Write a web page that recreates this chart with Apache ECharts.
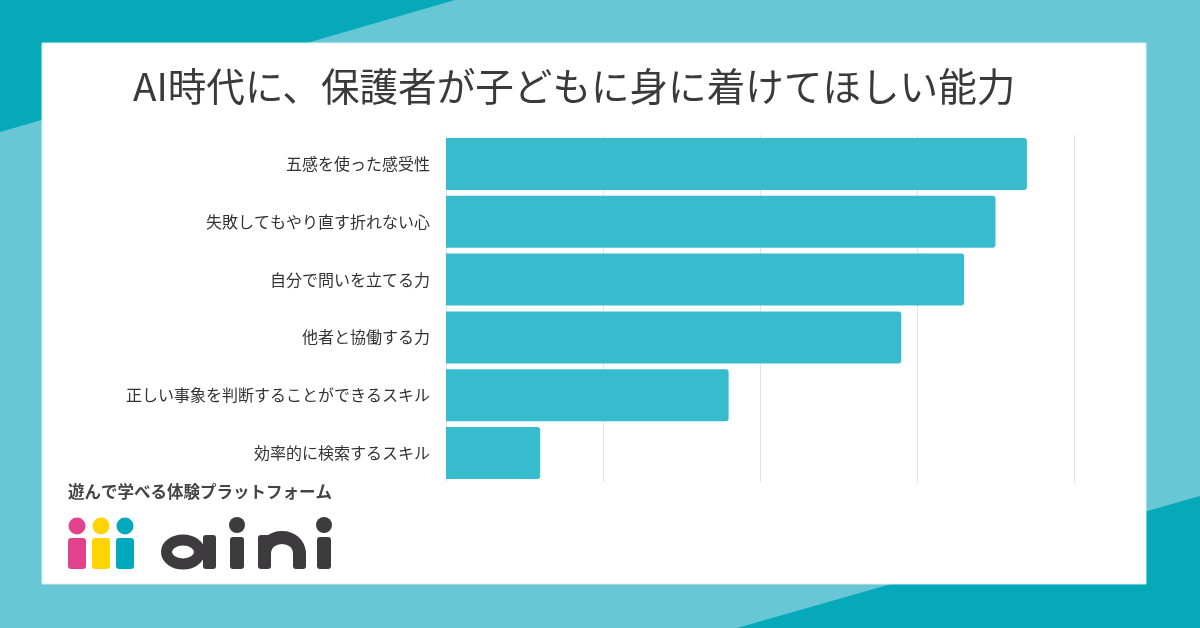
<!DOCTYPE html>
<html><head><meta charset="utf-8">
<script src="https://cdn.jsdelivr.net/npm/echarts@6/dist/echarts.min.js"></script>
<style>html,body{margin:0;padding:0;background:#67c7d4}#c{width:1200px;height:628px}</style>
</head><body><div id="c"></div>
<script>
const titleText = 'AI時代に、保護者が子どもに身に着けてほしい能力';
const categories = ['五感を使った感受性','失敗してもやり直す折れない心','自分で問いを立てる力','他者と協働する力','正しい事象を判断することができるスキル','効率的に検索するスキル'];
const values = [74, 70, 66, 58, 36, 12];
const axisMax = 80;
const axisStep = 20;
const tagline = '遊んで学べる体験プラットフォーム';

const DARK = '#05a9b9', LIGHT = '#67c7d4', INK = '#3d3b3d';
const chart = echarts.init(document.getElementById('c'));
chart.setOption({
  backgroundColor: LIGHT,
  animation: false,
  title: {
    text: titleText, left: 133, top: 67, padding: 0,
    textStyle: { fontFamily: 'Noto Sans CJK JP', fontSize: 38.6, fontWeight: 'normal', color: '#3a3a3a' }
  },
  grid: { left: 446, right: 126, top: 135, height: 347, containLabel: false },
  xAxis: {
    type: 'value', min: 0, max: axisMax, interval: axisStep,
    axisLabel: { show: false }, axisLine: { show: false }, axisTick: { show: false },
    splitLine: { lineStyle: { color: '#e2e2ec', width: 1 } }
  },
  yAxis: {
    type: 'category', data: categories, inverse: true,
    axisLine: { show: false }, axisTick: { show: false },
    axisLabel: { margin: 16, fontFamily: 'Noto Sans CJK JP', fontSize: 16, color: '#333' }
  },
  series: [{
    type: 'bar', data: values, barWidth: 52,
    itemStyle: { color: '#37bccd', borderRadius: [0, 3, 3, 0] }
  }],
  graphic: [
    { type: 'polygon', z: -100, shape: { points: [[0,0],[455,0],[0,132]] }, style: { fill: DARK } },
    { type: 'polygon', z: -100, shape: { points: [[737,628],[1200,496],[1200,628]] }, style: { fill: DARK } },
    { type: 'rect', z: -90, shape: { x: 42, y: 43, width: 1104, height: 541 }, style: { fill: '#ffffff', stroke: '#d8f0f3', lineWidth: 1 } },
    { type: 'text', z: 10, x: 68, y: 483, style: { text: tagline, fontFamily: 'Noto Sans CJK JP', fontSize: 16.5, fontWeight: 'bold', fill: '#444' } },
    // colored figures
    { type: 'circle', z: 10, shape: { cx: 77, cy: 526, r: 8.5 }, style: { fill: '#e2418b' } },
    { type: 'rect', z: 10, shape: { x: 68, y: 538, width: 18, height: 31, r: 3 }, style: { fill: '#e2418b' } },
    { type: 'circle', z: 10, shape: { cx: 101, cy: 526, r: 8.5 }, style: { fill: '#ffd400' } },
    { type: 'rect', z: 10, shape: { x: 92, y: 538, width: 18, height: 31, r: 3 }, style: { fill: '#ffd400' } },
    { type: 'circle', z: 10, shape: { cx: 125, cy: 526, r: 8.5 }, style: { fill: '#00a9bd' } },
    { type: 'rect', z: 10, shape: { x: 116, y: 538, width: 18, height: 31, r: 3 }, style: { fill: '#00a9bd' } },
    // "a"
    { type: 'ellipse', z: 10, shape: { cx: 183, cy: 552, rx: 16.5, ry: 12 }, style: { fill: 'none', stroke: INK, lineWidth: 11 } },
    { type: 'rect', z: 10, shape: { x: 203, y: 535, width: 13, height: 34, r: 3 }, style: { fill: INK } },
    // "i"
    { type: 'circle', z: 10, shape: { cx: 237, cy: 525, r: 8 }, style: { fill: INK } },
    { type: 'rect', z: 10, shape: { x: 230, y: 537, width: 14, height: 32, r: 3 }, style: { fill: INK } },
    // "n"
    { type: 'rect', z: 10, shape: { x: 258, y: 535, width: 13, height: 34, r: 3 }, style: { fill: INK } },
    { type: 'rect', z: 10, shape: { x: 293, y: 550, width: 13, height: 19, r: 3 }, style: { fill: INK } },
    { type: 'bezierCurve', z: 10, shape: { x1: 264.5, y1: 554, cpx1: 264.5, cpy1: 532, cpx2: 299.5, cpy2: 532, x2: 299.5, y2: 554 }, style: { fill: 'none', stroke: INK, lineWidth: 13 } },
    // "i"
    { type: 'circle', z: 10, shape: { cx: 324, cy: 525, r: 8 }, style: { fill: INK } },
    { type: 'rect', z: 10, shape: { x: 317, y: 537, width: 14, height: 32, r: 3 }, style: { fill: INK } }
  ]
});
</script></body></html>
